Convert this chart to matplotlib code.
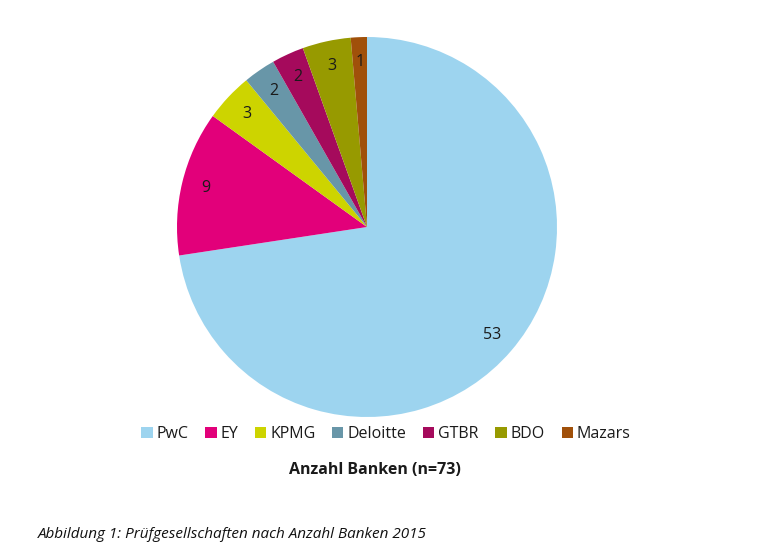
import matplotlib.pyplot as plt
from matplotlib.patches import Patch

plt.rcParams['font.family'] = ['Open Sans', 'DejaVu Sans']

# Anzahl Banken je Prüfgesellschaft 2015
firms = ["PwC", "EY", "KPMG", "Deloitte", "GTBR", "BDO", "Mazars"]
banks = [53, 9, 3, 2, 2, 3, 1]
colors = ["#9dd4ef", "#e2007a", "#cdd400", "#6896a8", "#a50a5c", "#979a00", "#a0500a"]

fig = plt.figure(figsize=(7.65, 5.56), dpi=100)
W, H = 765, 556
cx, cy, r = 367, 227, 190
ax = fig.add_axes([(cx - r) / W, 1 - (cy + r) / H, 2 * r / W, 2 * r / H])

total = sum(banks)
wedges, texts, autotexts = ax.pie(
    banks, colors=colors, startangle=90, counterclock=False,
    autopct=lambda p: f"{round(p * total / 100)}", pctdistance=0.87,
    textprops={"fontsize": 11.5, "color": "#1a1a1a"},
    wedgeprops={"linewidth": 0},
)
ax.set_xlim(-1, 1)
ax.set_ylim(-1, 1)
ax.set_aspect("equal")

handles = [Patch(facecolor=c, edgecolor="none") for c in colors]
fig.legend(handles, firms, loc="center", bbox_to_anchor=(386 / W, 1 - 434 / H),
           ncol=7, frameon=False, fontsize=11.5, handlelength=0.7, handleheight=0.7,
           handletextpad=0.25, columnspacing=1.05, labelcolor="#1a1a1a")

fig.text(375 / W, 1 - 470 / H, "Anzahl Banken (n=73)", ha="center", va="center",
         fontsize=11.5, fontweight="bold", color="#1a1a1a")
fig.text(38 / W, 1 - 535 / H, "Abbildung 1: Prüfgesellschaften nach Anzahl Banken 2015",
         ha="left", va="center", fontsize=11, style="italic", color="#111111")

fig.savefig("out.png", dpi=100)
